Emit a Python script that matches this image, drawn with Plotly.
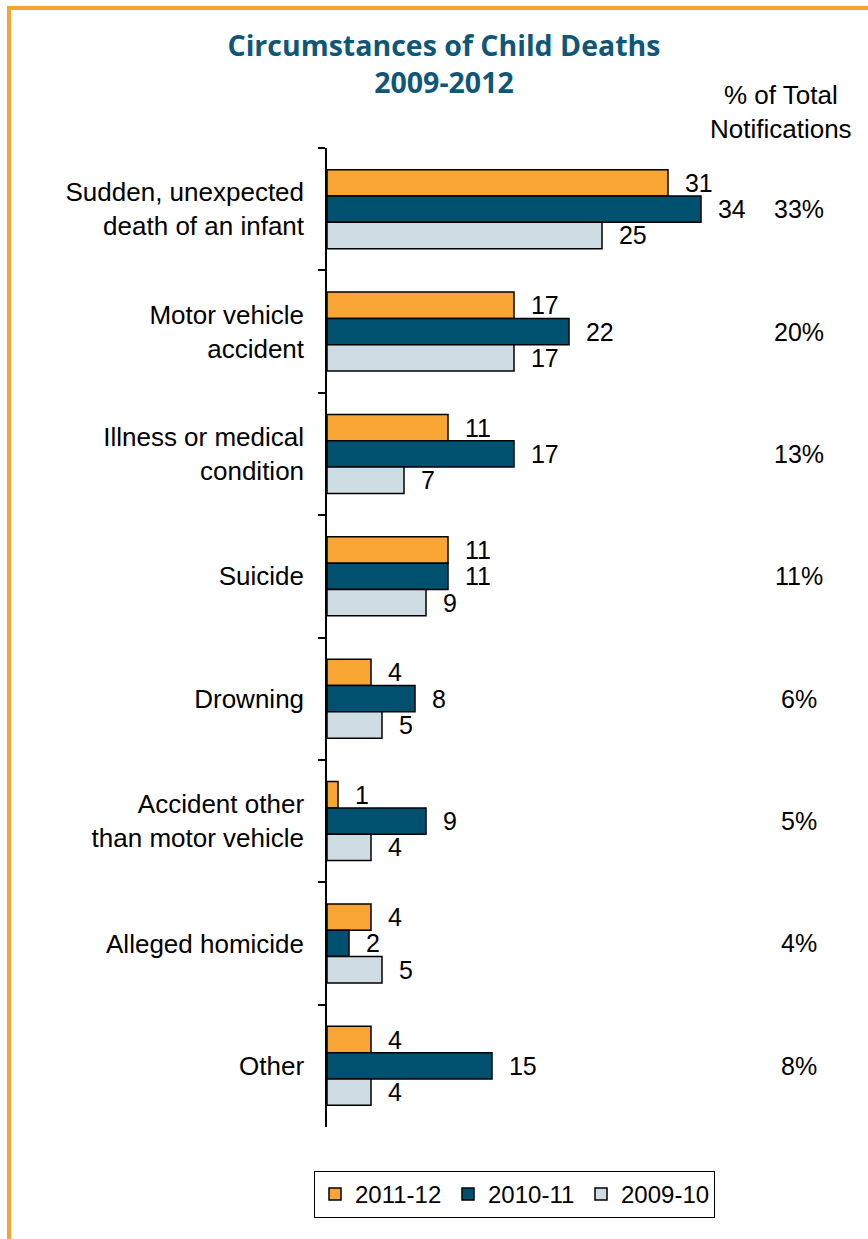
import plotly.graph_objects as go

categories = [
    "Sudden, unexpected<br>death of an infant",
    "Motor vehicle<br>accident",
    "Illness or medical<br>condition",
    "Suicide",
    "Drowning",
    "Accident other<br>than motor vehicle",
    "Alleged homicide",
    "Other",
]
deaths_2011_12 = [31, 17, 11, 11, 4, 1, 4, 4]
deaths_2010_11 = [34, 22, 17, 11, 8, 9, 2, 15]
deaths_2009_10 = [25, 17, 7, 9, 5, 4, 5, 4]
pct_total = ["33%", "20%", "13%", "11%", "6%", "5%", "4%", "8%"]

series = [
    ("2011-12", deaths_2011_12, "#F9A533"),
    ("2010-11", deaths_2010_11, "#00506F"),
    ("2009-10", deaths_2009_10, "#CEDDE3"),
]

W, H = 868, 1239
L, R, T, B = 327, 760, 148, 1127
FONT = "Liberation Sans, Arial, sans-serif"


def px_x(p):
    return (p - L) / (R - L)


def px_y(p):
    return (B - p) / (B - T)


fig = go.Figure()
for name, vals, color in series:
    fig.add_trace(go.Bar(
        y=categories,
        x=vals,
        name=name,
        orientation="h",
        marker=dict(color=color, line=dict(color="black", width=1.5)),
        text=vals,
        texttemplate="\u00a0\u00a0%{x}",
        textposition="outside",
        constraintext="none",
        textfont=dict(family=FONT, size=25, color="black"),
        cliponaxis=False,
    ))

# % of total column
for cat, pct in zip(categories, pct_total):
    fig.add_annotation(x=px_x(799), xref="paper", y=cat, yref="y", text=pct,
                       showarrow=False, xanchor="center",
                       font=dict(family=FONT, size=25, color="black"))

fig.add_annotation(x=px_x(781), xref="paper", y=px_y(112), yref="paper",
                   text="% of Total<br>Notifications", showarrow=False,
                   xanchor="center", yanchor="middle",
                   font=dict(family=FONT, size=26, color="black"))

# orange frame (left + top)
orange = "#F7A232"
fig.add_shape(type="line", xref="paper", yref="paper",
              x0=px_x(9), x1=px_x(9), y0=px_y(6), y1=px_y(W * 2),
              line=dict(color=orange, width=4))
fig.add_shape(type="line", xref="paper", yref="paper",
              x0=px_x(7), x1=px_x(W + 10), y0=px_y(8), y1=px_y(8),
              line=dict(color=orange, width=4))

fig.update_layout(
    width=W, height=H,
    margin=dict(l=L, r=W - R, t=T, b=H - B),
    paper_bgcolor="white", plot_bgcolor="white",
    barmode="group", bargap=0.355, bargroupgap=0,
    title=dict(text="<b>Circumstances of Child Deaths<br>2009-2012</b>",
               x=444 / W, xanchor="center", xref="container",
               y=1 - 56 / H, yanchor="middle", yref="container",
               font=dict(family="Open Sans, sans-serif", size=28.5, color="#0E5778")),
    xaxis=dict(range=[0, (R - L) / 11.0], visible=False),
    yaxis=dict(autorange="reversed", showline=True, linecolor="black", linewidth=1.5,
               ticks="outside", ticklen=7, tickcolor="black", tickwidth=1.5,
               tickson="boundaries", ticklabelstandoff=16,
               tickfont=dict(family=FONT, size=26, color="black")),
    legend=dict(orientation="h", xref="container", yref="container",
                x=314 / W, y=1 - 1171 / H, xanchor="left", yanchor="top",
                bordercolor="black", borderwidth=1, entrywidth=88,
                font=dict(family=FONT, size=24, color="black")),
)

fig.write_html("out.html", config={"displayModeBar": False},
               post_script="document.body.style.margin='0';")
